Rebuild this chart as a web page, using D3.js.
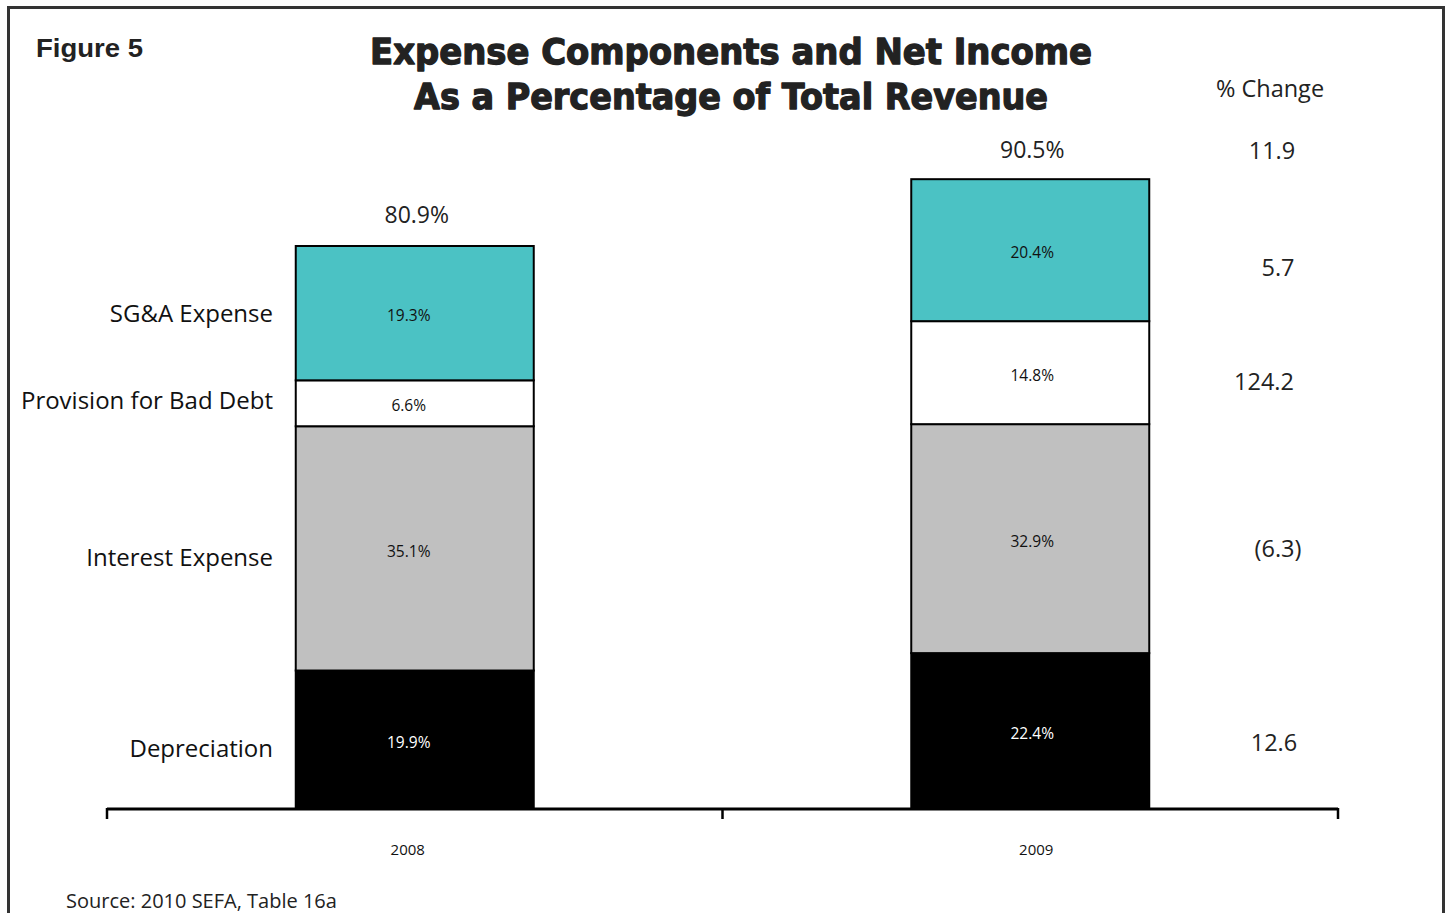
<!DOCTYPE html>
<html><head><meta charset="utf-8">
<script src="https://cdn.jsdelivr.net/npm/d3@7"></script>
<style>
html,body{margin:0;padding:0;background:#fff;}
svg{display:block;}
</style></head>
<body>
<svg id="chart" width="1450" height="913"></svg>
<script>
const years = ["2008", "2009"];
const categories = ["Depreciation", "Interest Expense", "Provision for Bad Debt", "SG&A Expense"];
const values2008 = [19.9, 35.1, 6.6, 19.3];
const values2009 = [22.4, 32.9, 14.8, 20.4];
const totals = ["80.9%", "90.5%"];
const pctChangeHeader = "% Change";
const pctChange = ["12.6", "(6.3)", "124.2", "5.7"];
const totalChange = "11.9";
const colors = ["#000000", "#c0c0c0", "#ffffff", "#4bc2c4"];

const svg = d3.select("#chart");
const font = "'Open Sans', 'Noto Sans', sans-serif";

// border
svg.append("rect").attr("x", 8.5).attr("y", 7.5).attr("width", 1435).attr("height", 930)
  .attr("fill", "none").attr("stroke", "#333").attr("stroke-width", 3);

const x = d3.scaleBand().domain(years).range([107, 1338]).padding(0);
const y = d3.scaleLinear().domain([0, 80.9]).range([809, 246]);
const barW = 238;

const seriesByYear = [values2008, values2009];
const stacked = years.map((yr, i) => {
  let acc = 0;
  return categories.map((c, j) => {
    const v = seriesByYear[i][j];
    const d = {year: yr, cat: c, idx: j, v, y0: acc, y1: acc + v};
    acc += v;
    return d;
  });
});

const gBars = svg.append("g");
const totalOff = [-23, -21];
stacked.forEach((segs, i) => {
  const cx = x(years[i]) + x.bandwidth() / 2;
  gBars.selectAll(null).data(segs).enter().append("rect")
    .attr("x", cx - barW / 2)
    .attr("y", d => y(d.y1))
    .attr("width", barW)
    .attr("height", d => y(d.y0) - y(d.y1))
    .attr("fill", d => colors[d.idx])
    .attr("stroke", "#000").attr("stroke-width", 2);
  gBars.selectAll(null).data(segs).enter().append("text")
    .attr("x", cx - (i === 0 ? 6 : -2))
    .attr("y", d => (y(d.y0) + y(d.y1)) / 2 + 4)
    .attr("text-anchor", "middle").attr("dominant-baseline", "middle")
    .attr("font-family", font).attr("font-size", 15.5)
    .attr("fill", d => d.idx === 0 ? "#fff" : "#111")
    .text(d => d.v.toFixed(1) + "%");
  const top = segs[segs.length - 1].y1;
  svg.append("text").attr("x", cx + 2).attr("y", y(top) + totalOff[i])
    .attr("text-anchor", "middle").attr("font-family", font).attr("font-size", 23)
    .attr("fill", "#222").text(totals[i]);
});

// axis
const axisG = svg.append("g").attr("transform", "translate(0,809)");
axisG.append("line").attr("x1", 107).attr("x2", 1338).attr("stroke", "#000").attr("stroke-width", 3);
const tickPos = [x.range()[0], x(years[1]), x.range()[1]];
axisG.selectAll(null).data(tickPos).enter().append("line")
  .attr("x1", d => d).attr("x2", d => d).attr("y1", -1).attr("y2", 10)
  .attr("stroke", "#000").attr("stroke-width", 2.5);
axisG.selectAll(null).data(years).enter().append("text")
  .attr("x", (d, i) => x(d) + x.bandwidth() / 2 + (i === 0 ? -7 : 6))
  .attr("y", 46).attr("text-anchor", "middle")
  .attr("font-family", font).attr("font-size", 15).attr("fill", "#111").text(d => d);

// category labels on left (positioned by 2008 stack)
const labelYOffset = [11, 11, -1, 2];
svg.selectAll(null).data(stacked[0]).enter().append("text")
  .attr("x", 273)
  .attr("y", (d, i) => (y(d.y0) + y(d.y1)) / 2 + labelYOffset[i])
  .attr("text-anchor", "end").attr("dominant-baseline", "middle")
  .attr("font-family", font).attr("font-size", 24).attr("fill", "#111")
  .text(d => d.cat);

// % change column (positioned by 2009 stack)
const chgX = [1274, 1278, 1264, 1278];
const chgYOff = [14, 12, 11, 20];
svg.selectAll(null).data(stacked[1]).enter().append("text")
  .attr("x", (d, i) => chgX[i])
  .attr("y", (d, i) => (y(d.y0) + y(d.y1)) / 2 + chgYOff[i])
  .attr("text-anchor", "middle").attr("dominant-baseline", "middle")
  .attr("font-family", font).attr("font-size", 23.5).attr("fill", "#222")
  .text((d, i) => pctChange[i]);
svg.append("text").attr("x", 1272).attr("y", 159).attr("text-anchor", "middle")
  .attr("font-family", font).attr("font-size", 23.5).attr("fill", "#222").text(totalChange);
svg.append("text").attr("x", 1270).attr("y", 97).attr("text-anchor", "middle")
  .attr("font-family", font).attr("font-size", 23.5).attr("fill", "#222").text(pctChangeHeader);

// titles
svg.append("text").attr("x", 36).attr("y", 57)
  .attr("font-family", "'Liberation Sans', Arial, sans-serif").attr("font-weight", "bold")
  .attr("font-size", 26).attr("textLength", 107).attr("lengthAdjust", "spacingAndGlyphs")
  .attr("fill", "#222").text("Figure 5");
const title = ["Expense Components and Net Income", "As a Percentage of Total Revenue"];
const titleW = [722, 634];
svg.selectAll(null).data(title).enter().append("text")
  .attr("x", 731).attr("y", (d, i) => 64 + i * 45)
  .attr("text-anchor", "middle")
  .attr("font-family", "'DejaVu Sans', 'Liberation Sans', sans-serif").attr("font-weight", "bold")
  .attr("font-size", 35).attr("textLength", (d, i) => titleW[i]).attr("lengthAdjust", "spacingAndGlyphs")
  .attr("fill", "#222").attr("stroke", "#222").attr("stroke-width", 1.3).attr("stroke-linejoin", "round")
  .text(d => d);

svg.append("text").attr("x", 66).attr("y", 908)
  .attr("font-family", font).attr("font-size", 20).attr("fill", "#222")
  .text("Source: 2010 SEFA, Table 16a");
</script>
</body></html>
